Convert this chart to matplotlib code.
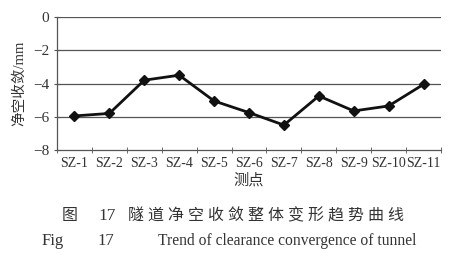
import matplotlib
matplotlib.use("Agg")
import matplotlib.pyplot as plt

# Clearance convergence of tunnel at each measuring point
points = ["SZ-1", "SZ-2", "SZ-3", "SZ-4", "SZ-5", "SZ-6",
          "SZ-7", "SZ-8", "SZ-9", "SZ-10", "SZ-11"]
convergence = [-5.95, -5.8, -3.8, -3.5, -5.05, -5.75,
               -6.5, -4.75, -5.65, -5.35, -4.05]
y_ticks = [0, -2, -4, -6, -8]

fonts = ["Liberation Serif", "Noto Sans CJK SC"]
plt.rcParams["font.family"] = fonts

fig = plt.figure(figsize=(4.57, 2.73), dpi=100)
ax = fig.add_axes([0.1247, 0.4505, 0.8403, 0.4872])

x = list(range(len(points)))
ax.plot(x, convergence, color="#111111", linewidth=2.0, marker="D",
        markersize=5.5, markerfacecolor="#111111", markeredgecolor="#111111")

ax.set_xlim(-0.5, len(points) - 0.5)
ax.set_ylim(-8, 0)
ax.set_yticks(y_ticks)
ax.set_yticklabels(["0", "\u22122", "\u22124", "\u22126", "\u22128"], fontsize=11, color="#333333")
for v in y_ticks[:-1]:
    ax.axhline(v, color="#555555", linewidth=0.9, zorder=0)

# category labels centred, ticks between categories
ax.set_xticks(x)
ax.set_xticklabels(points, fontsize=10, color="#333333")
ax.tick_params(axis="x", length=0, pad=5)
ax.set_xticks([i - 0.5 for i in range(len(points) + 1)], minor=True)
ax.tick_params(axis="x", which="minor", length=4, color="#555555", direction="inout")
ax.tick_params(axis="y", length=5, color="#555555", direction="inout", pad=3)

for side in ["top", "right"]:
    ax.spines[side].set_visible(False)
for side in ["left", "bottom"]:
    ax.spines[side].set_color("#555555")
    ax.spines[side].set_linewidth(0.9)

ax.set_ylabel("净空收敛/mm", fontsize=10.5, color="#333333", labelpad=5)
ax.set_xlabel("测点", fontsize=11, color="#333333", labelpad=2)

# two-line caption (Chinese / English)
cap = dict(va="center", color="#333333")
fig.text(62 / 457, 1 - 216 / 273, "图", fontsize=11.5, **cap)
fig.text(98 / 457, 1 - 216 / 273, "17", fontsize=12.5, **cap)
fig.text(128 / 457, 1 - 216 / 273, " ".join("隧道净空收敛整体变形趋势曲线"),
         fontsize=11.5, **cap)
fig.text(42 / 457, 1 - 241 / 273, "Fig", fontsize=12, **cap)
fig.text(97 / 457, 1 - 241 / 273, "17", fontsize=12, **cap)
fig.text(158 / 457, 1 - 241 / 273, "Trend of clearance convergence of tunnel",
         fontsize=11.2, **cap)

fig.savefig("out.png", dpi=100)
